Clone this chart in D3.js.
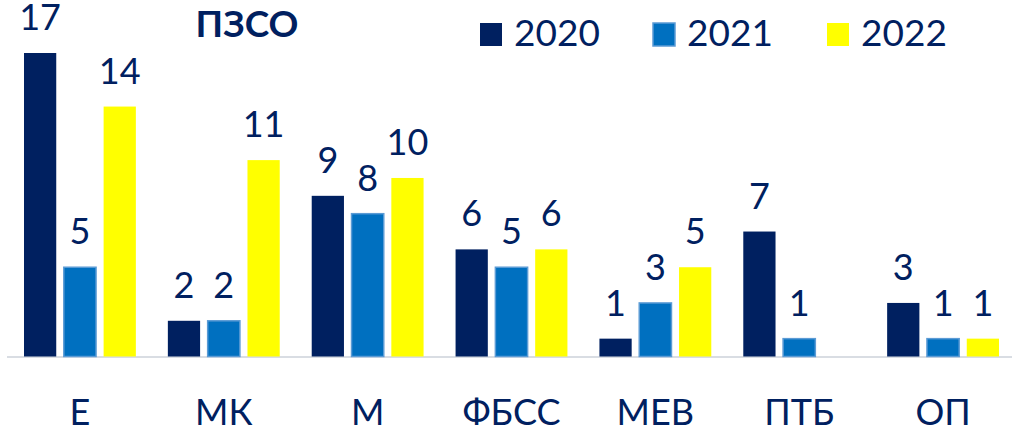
<!DOCTYPE html>
<html><head><meta charset="utf-8">
<script src="https://cdn.jsdelivr.net/npm/d3@7"></script>
<style>body{margin:0;background:#fff}svg{display:block}text{font-family:Lato,"Open Sans",sans-serif}</style>
</head><body><svg id="c" width="1012" height="429"></svg>
<script>
const categories = ["Е","МК","М","ФБСС","МЕВ","ПТБ","ОП"];
const seriesNames = ["2020","2021","2022"];
const values2020 = [17,2,9,6,1,7,3];
const values2021 = [5,2,8,5,3,1,1];
const values2022 = [14,11,10,6,5,null,1];
const colors = ["#002060","#0070C0","#FFFF00"];
const strokes = ["none","#5B9BD5","none"];
const title = "ПЗСО";

const seriesVals = [values2020, values2021, values2022];
const svg = d3.select("#c");
const textColor = "#002060";

const x0 = d3.scaleBand().domain(categories).range([8, 1015]).padding(0);
const x1 = d3.scaleBand().domain(seriesNames).range([16, x0.bandwidth()-16]).paddingInner(0.19);
const y = d3.scaleLinear().domain([0, 17]).range([356.5, 53]);

// axis baseline
svg.append("line").attr("x1", 7).attr("x2", 1012).attr("y1", y(0)+0.5).attr("y2", y(0)+0.5)
  .attr("stroke", "#D9DDE3").attr("stroke-width", 2);

const data = [];
categories.forEach((c, i) => seriesNames.forEach((s, j) => {
  const v = seriesVals[j][i];
  if (v != null) data.push({c, s, j, v});
}));

svg.append("g").selectAll("rect").data(data).join("rect")
  .attr("x", d => x0(d.c) + x1(d.s))
  .attr("y", d => y(d.v))
  .attr("width", x1.bandwidth())
  .attr("height", d => y(0) - y(d.v))
  .attr("fill", d => colors[d.j])
  .attr("stroke", d => strokes[d.j])
  .attr("stroke-width", 1.5);

svg.append("g").selectAll("text").data(data).join("text")
  .attr("x", d => x0(d.c) + x1(d.s) + x1.bandwidth()/2)
  .attr("y", d => y(d.v) - 23)
  .attr("text-anchor", "middle")
  .attr("fill", textColor)
  .style("font-size", "36px")
  .text(d => d.v);

// category axis labels
const xAxis = d3.axisBottom(x0).tickSize(0).tickPadding(0);
const gx = svg.append("g").attr("transform", `translate(0,${y(0)})`).call(xAxis);
gx.select(".domain").remove();
gx.selectAll("text").attr("fill", textColor).attr("dy", null).attr("y", 68)
  .style("font-size", "36px").style("font-family", "Lato, 'Open Sans', sans-serif");

// title
svg.append("text").attr("x", 247).attr("y", 37).attr("text-anchor", "middle")
  .attr("fill", textColor).style("font-size", "37px").style("font-weight", "bold").text(title);

// legend
const legX = [480, 653, 827];
const lg = svg.append("g").selectAll("g").data(seriesNames).join("g")
  .attr("transform", (d, i) => `translate(${legX[i]},23)`);
lg.append("rect").attr("width", 22).attr("height", 23)
  .attr("fill", (d, i) => colors[i]).attr("stroke", (d, i) => strokes[i]).attr("stroke-width", 1.5);
lg.append("text").attr("x", 34).attr("y", 23).attr("fill", textColor)
  .style("font-size", "37px").text(d => d);
</script></body></html>
